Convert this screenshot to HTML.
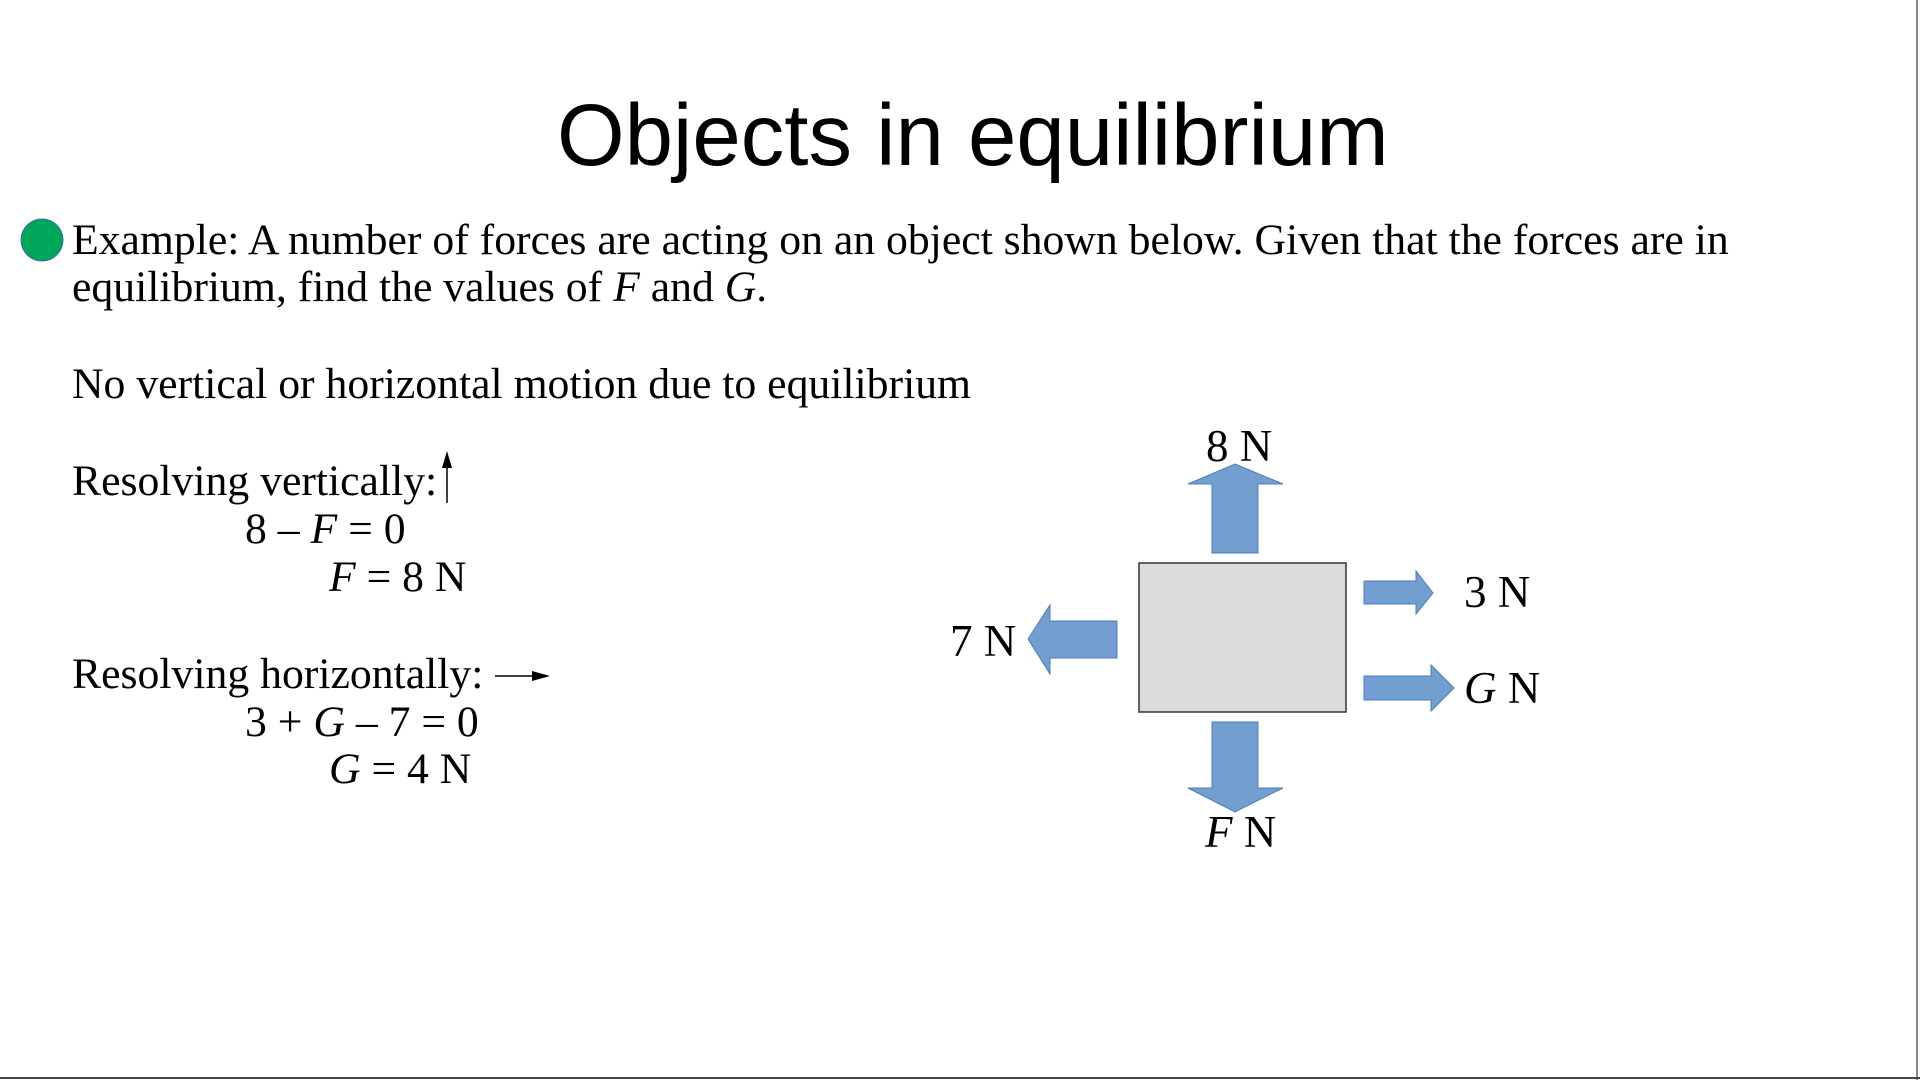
<!DOCTYPE html>
<html><head><meta charset="utf-8"><style>
body{margin:0;width:1920px;height:1080px;background:#fff;overflow:hidden;position:relative;font-family:"Liberation Serif",serif;color:#000}
.t{position:absolute;white-space:nowrap;line-height:1}
</style></head><body>
<div class="t" style="left:557px;top:92px;font-family:'Liberation Sans',sans-serif;font-size:87px">Objects in equilibrium</div>
<svg width="1920" height="1080" style="position:absolute;left:0;top:0" font-family="Liberation Serif" font-size="45">
<line x1="1917" y1="0" x2="1917" y2="1080" stroke="#888" stroke-width="2"/>
<line x1="0" y1="1078" x2="1920" y2="1078" stroke="#444" stroke-width="2"/>
<circle cx="42" cy="240" r="21" fill="#00a65a" stroke="#3a6ea5" stroke-width="1"/>
<g font-size="43.7">
<text x="72" y="254">Example: A number of forces are acting on an object shown below. Given that the forces are in</text>
<text x="72" y="301">equilibrium, find the values of <tspan font-style="italic">F</tspan> and <tspan font-style="italic">G</tspan>.</text>
<text x="72" y="398">No vertical or horizontal motion due to equilibrium</text>
<text x="72" y="495">Resolving vertically:</text>
<text x="245" y="543">8 – <tspan font-style="italic">F</tspan> = 0</text>
<text x="329" y="591"><tspan font-style="italic">F</tspan> = 8 N</text>
<text x="72" y="688">Resolving horizontally:</text>
<text x="245" y="736">3 + <tspan font-style="italic">G</tspan> – 7 = 0</text>
<text x="329" y="783"><tspan font-style="italic">G</tspan> = 4 N</text>
</g>
<line x1="447" y1="503" x2="447" y2="465" stroke="#000" stroke-width="1.5"/>
<polygon points="447,451 442,468 452,468" fill="#000"/>
<line x1="495" y1="676" x2="535" y2="676" stroke="#000" stroke-width="1.5"/>
<polygon points="550,676 532,671 532,681" fill="#000"/>
<rect x="1139" y="563" width="207" height="149" fill="#dcdcdc" stroke="#333" stroke-width="1.5"/>
<g fill="#729fcf" stroke="#4a7ebb" stroke-width="1">
<polygon points="1235,464 1283,484 1258,484 1258,553 1212,553 1212,484 1188,484"/>
<polygon points="1212,722 1258,722 1258,788 1283,788 1235,812 1188,788 1212,788"/>
<polygon points="1028,639 1050,605 1050,621 1117,621 1117,658 1050,658 1050,674"/>
<polygon points="1364,581 1416,581 1416,571 1433,593 1416,614 1416,604 1364,604"/>
<polygon points="1364,676 1431,676 1431,665 1454,688 1431,711 1431,700 1364,700"/>
</g>
<text x="1206" y="461">8 N</text>
<text x="1464" y="607">3 N</text>
<text x="950" y="656">7 N</text>
<text x="1464" y="703"><tspan font-style="italic">G</tspan> N</text>
<text x="1205" y="847"><tspan font-style="italic">F</tspan> N</text>
</svg>
</body></html>
